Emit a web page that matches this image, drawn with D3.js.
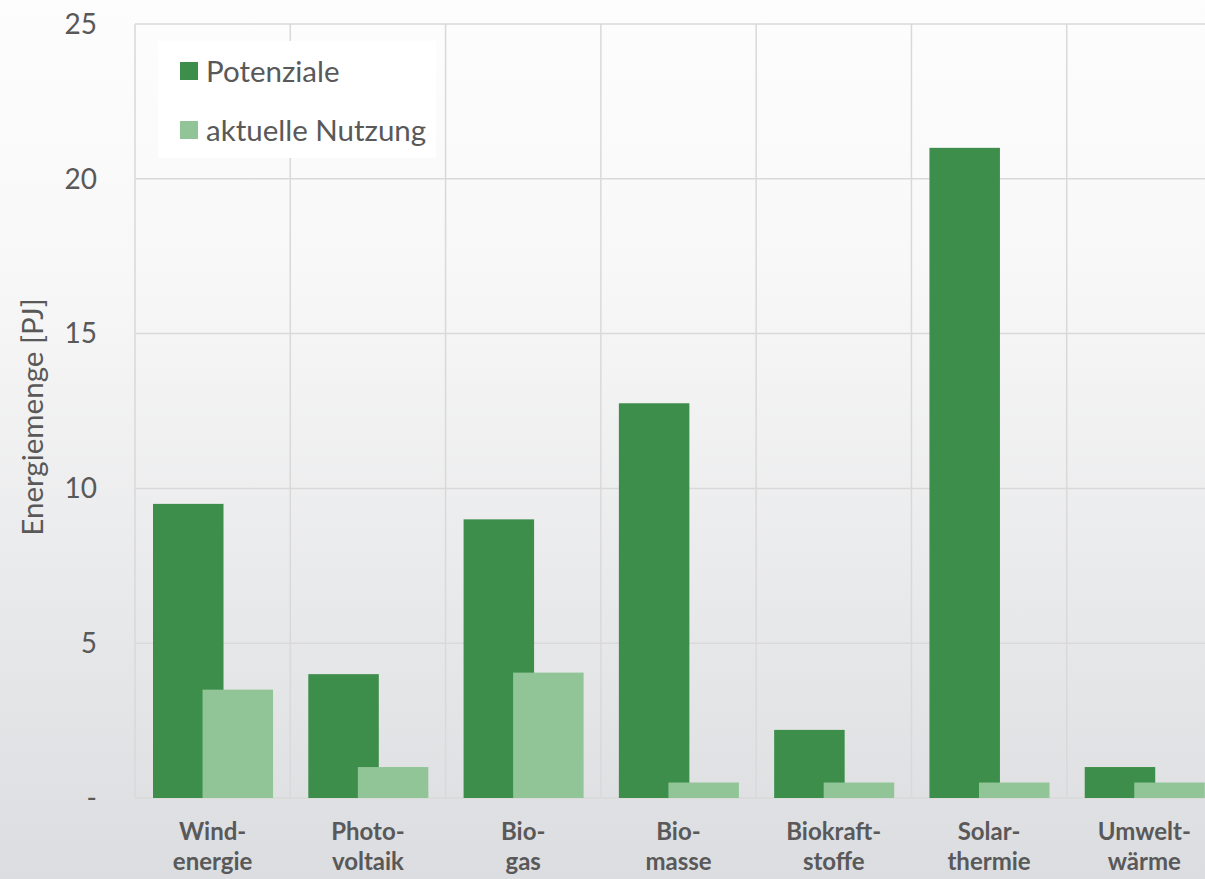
<!DOCTYPE html>
<html>
<head>
<meta charset="utf-8">
<script src="https://cdn.jsdelivr.net/npm/d3@7"></script>
<style>
  body { margin: 0; background: #fff; }
  svg { display: block; }
  text { font-family: Lato, "Open Sans", sans-serif; fill: #595959; }
</style>
</head>
<body>
<svg width="1205" height="879"></svg>
<script>
// categories (two-line labels) and values in PJ
var categories = ["Wind-\nenergie", "Photo-\nvoltaik", "Bio-\ngas", "Bio-\nmasse", "Biokraft-\nstoffe", "Solar-\nthermie", "Umwelt-\nwärme"];
var potenziale = [9.5, 4.0, 9.0, 12.75, 2.2, 21.0, 1.0];
var nutzung = [3.5, 1.0, 4.05, 0.5, 0.5, 0.5, 0.5];
var seriesNames = ["Potenziale", "aktuelle Nutzung"];
var seriesColors = ["#3d8e4a", "#91c597"];
var yTicks = [0, 5, 10, 15, 20, 25];

var svg = d3.select("svg"),
    width = +svg.attr("width"),
    height = +svg.attr("height");

var margin = { top: 24, left: 135, bottom: 82 };
var plotRight = 1222; // plot runs past the visible edge

var defs = svg.append("defs");
var grad = defs.append("linearGradient")
    .attr("id", "bg").attr("x1", 0).attr("y1", 0).attr("x2", 0).attr("y2", 1);
grad.append("stop").attr("offset", "0%").attr("stop-color", "#fdfdfd");
grad.append("stop").attr("offset", "30%").attr("stop-color", "#f8f8f8");
grad.append("stop").attr("offset", "100%").attr("stop-color", "#dcdde0");

svg.append("rect").attr("width", width).attr("height", height).attr("fill", "url(#bg)");

var x = d3.scaleBand()
    .domain(categories)
    .range([margin.left, plotRight]);

var y = d3.scaleLinear()
    .domain([0, 25])
    .range([height - margin.bottom + 1, margin.top]);

// grid
svg.append("g").selectAll("line")
    .data(yTicks)
    .enter().append("line")
    .attr("x1", margin.left).attr("x2", plotRight)
    .attr("y1", function (d) { return y(d); })
    .attr("y2", function (d) { return y(d); })
    .attr("stroke", "#d9d9d9").attr("stroke-width", 1.5);

svg.append("g").selectAll("line")
    .data(categories.concat(["end"]))
    .enter().append("line")
    .attr("x1", function (d, i) { return margin.left + i * x.bandwidth(); })
    .attr("x2", function (d, i) { return margin.left + i * x.bandwidth(); })
    .attr("y1", y(25)).attr("y2", y(0))
    .attr("stroke", "#d9d9d9").attr("stroke-width", 1.5);

// bars: two overlapping series
var bw = x.bandwidth();
var barW = bw * 0.454, offs = [bw * 0.116, bw * 0.435];
[potenziale, nutzung].forEach(function (vals, s) {
    svg.append("g").selectAll("rect")
        .data(vals)
        .enter().append("rect")
        .attr("x", function (d, i) { return x(categories[i]) + offs[s]; })
        .attr("width", barW)
        .attr("y", function (d) { return y(d); })
        .attr("height", function (d) { return y(0) - y(d); })
        .attr("fill", seriesColors[s]);
});

// y tick labels
svg.append("g").selectAll("text")
    .data(yTicks)
    .enter().append("text")
    .attr("x", 97)
    .attr("y", function (d) { return y(d); })
    .attr("dy", "0.35em")
    .attr("text-anchor", "end")
    .style("font-size", "28px")
    .text(function (d) { return d === 0 ? "-" : d; });

// x labels
var xl = svg.append("g").selectAll("text")
    .data(categories)
    .enter().append("text")
    .attr("text-anchor", "middle")
    .style("font-size", "24px")
    .style("font-weight", "bold");
xl.selectAll("tspan")
    .data(function (d) { return d.split("\n"); })
    .enter().append("tspan")
    .attr("x", function () { return x(d3.select(this.parentNode).datum()) + bw / 2; })
    .attr("y", function (d, i) { return 840 + i * 30; })
    .text(function (d) { return d; });

// y axis title
svg.append("text")
    .attr("transform", "translate(43," + (y(12.5) + 6) + ") rotate(-90)")
    .attr("text-anchor", "middle")
    .style("font-size", "29.5px")
    .text("Energiemenge [PJ]");

// legend
var lg = svg.append("g");
lg.append("rect").attr("x", 158).attr("y", 41).attr("width", 278).attr("height", 117).attr("fill", "#fff");
var li = lg.selectAll("g.item")
    .data(seriesNames)
    .enter().append("g").attr("class", "item")
    .attr("transform", function (d, i) { return "translate(180," + (62 + i * 59) + ")"; });
li.append("rect").attr("width", 18).attr("height", 18)
    .attr("fill", function (d, i) { return seriesColors[i]; });
li.append("text").attr("x", 26).attr("y", 9).attr("dy", "0.36em")
    .style("font-size", "29.5px")
    .text(function (d) { return d; });
</script>
</body>
</html>
